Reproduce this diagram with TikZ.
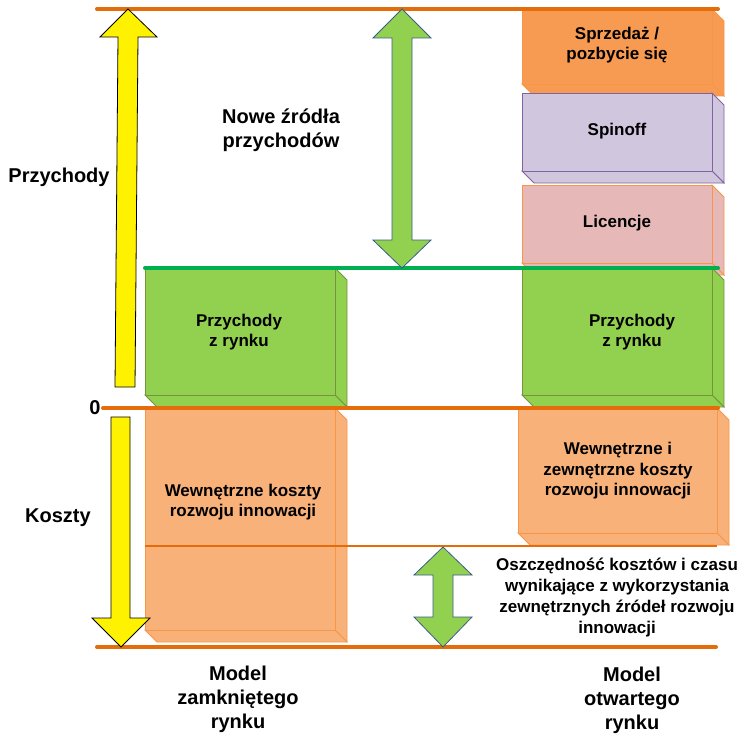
\documentclass[tikz,border=0pt]{standalone}
\usepackage{fontspec}
\setmainfont{Liberation Sans}
\definecolor{lineorange}{HTML}{E46C0A}
\definecolor{linegreen}{HTML}{00B050}
\definecolor{leafgreen}{HTML}{92D050}
\definecolor{olive}{HTML}{77933C}
\definecolor{arrowedge}{HTML}{385D8A}
\definecolor{peach}{HTML}{F9B17A}
\definecolor{peachedge}{HTML}{F79646}
\definecolor{deeporange}{HTML}{F79A52}
\definecolor{lavender}{HTML}{D0C6DE}
\definecolor{lavenderedge}{HTML}{8064A2}
\definecolor{rosy}{HTML}{E6B9B8}
\tikzset{
  greenslab/.style={fill=leafgreen, draw=olive, line width=0.8pt},
  peachslab/.style={fill=peach, draw=peachedge, line width=0.8pt},
  saleslab/.style={fill=deeporange, draw=peachedge, line width=0.8pt},
  spinslab/.style={fill=lavender, draw=lavenderedge, line width=0.8pt},
  licslab/.style={fill=rosy, draw=peachedge, line width=0.8pt},
  axisline/.style={draw=lineorange, line width=4pt, line cap=round},
  boxtext/.style={font=\bfseries\fontsize{17}{20.5}\selectfont, align=center, inner sep=0pt},
  bigtext/.style={font=\bfseries\fontsize{20}{24}\selectfont, align=center, inner sep=0pt},
  yellowarrow/.style={fill=yellow, draw=black, line width=0.8pt, line join=miter},
  greenarrow/.style={fill=leafgreen, draw=arrowedge, line width=0.8pt, line join=miter},
}
% A slab with a depth of 12 units towards the lower right:
% #1 name, #2 style, (#3,#4) upper left, (#5,#6) lower right of the front face
\newcommand\slabbox[6]{%
  \path[#2] (#5,#4) -- (#5+12,#4+12) -- (#5+12,#6+12) -- (#5,#6) -- cycle;
  \path[#2] (#3,#6) -- (#5,#6) -- (#5+12,#6+12) -- (#3+12,#6+12) -- cycle;
  \node[#2, anchor=north west, inner sep=0pt, outer sep=0pt,
        minimum width={(#5-#3)*1pt}, minimum height={(#6-#4)*1pt}] (#1) at (#3,#4) {};%
}
\begin{document}
\begin{tikzpicture}[x=1pt, y=-1pt]
\useasboundingbox (0,0) rectangle (743,733);

% slabs of the closed model
\slabbox{closedrev}{greenslab}{145}{268}{335}{395}
\slabbox{closedcost}{peachslab}{145}{408}{335}{630}

% slabs of the open model
\slabbox{sale}{saleslab}{522}{9}{712}{84}
\slabbox{spinoff}{spinslab}{522}{93}{712}{171}
\slabbox{licence}{licslab}{522}{185}{712}{263}
\slabbox{openrev}{greenslab}{522}{268}{712}{395}
\slabbox{opencost}{peachslab}{518}{408}{717}{533}

% horizontal levels
\coordinate (topL) at (97,9);     \coordinate (topR) at (718,9);
\coordinate (zeroL) at (103,408); \coordinate (zeroR) at (718,408);
\coordinate (botL) at (97,647);   \coordinate (botR) at (716,647);
\coordinate (revL) at (145,268);  \coordinate (revR) at (718,268);
\coordinate (saveL) at (145,546); \coordinate (saveR) at (717,546);
\draw[axisline] (topL) -- (topR);
\draw[axisline] (zeroL) -- (zeroR);
\draw[axisline] (botL) -- (botR);
\draw[draw=linegreen, line width=4pt, line cap=round] (revL) -- (revR);
\draw[draw=lineorange, line width=1.3pt] (saveL) -- (saveR);

% revenue and cost axes
\draw[yellowarrow] (128,9) -- (157,37) -- (138,37) -- (135,387) -- (115,387)
  -- (118,37) -- (100,37) -- cycle;
\draw[yellowarrow] (111,417) -- (130,417) -- (130,618) -- (150,618) -- (121,647)
  -- (92,618) -- (111,618) -- cycle;

% two-headed markers
\draw[greenarrow] (402,9) -- (431,38) -- (412,38) -- (412,240) -- (431,240)
  -- (402,268) -- (373,240) -- (392,240) -- (392,38) -- (373,38) -- cycle;
\draw[greenarrow] (443,547) -- (472,575) -- (453,575) -- (453,617) -- (472,617)
  -- (443,647) -- (414,617) -- (433,617) -- (433,575) -- (414,575) -- cycle;

% texts
\node[bigtext] (revlabel) at (59,177) {Przychody};
\node[bigtext] (zerolabel) at (95,408) {0};
\node[bigtext] (costlabel) at (58,518) {Koszty};
\node[bigtext] (newsrc) at (281,130) {Nowe źródła\\przychodów};

\node[boxtext] (saletext) at (617,45) {Sprzedaż /\\pozbycie się};
\node[boxtext] (spintext) at (617,131) {Spinoff};
\node[boxtext] (lictext) at (617,223) {Licencje};
\node[boxtext] (closedrevtext) at (239,332) {Przychody\\z rynku};
\node[boxtext] (openrevtext) at (632,332) {Przychody\\z rynku};
\node[boxtext] (closedcosttext) at (243,502) {Wewnętrzne koszty\\rozwoju innowacji};
\node[boxtext] (opencosttext) at (618,471) {Wewnętrzne i\\zewnętrzne koszty\\rozwoju innowacji};
\node[boxtext, font=\bfseries\fontsize{17}{21}\selectfont] (savetext) at (617,598)
  {Oszczędność kosztów i czasu\\wynikające z wykorzystania\\zewnętrznych źródeł rozwoju\\innowacji};

\node[bigtext] (closedmodel) at (238,699) {Model\\zamkniętego\\rynku};
\node[bigtext] (openmodel) at (632,700) {Model\\otwartego\\rynku};
\end{tikzpicture}
\end{document}
